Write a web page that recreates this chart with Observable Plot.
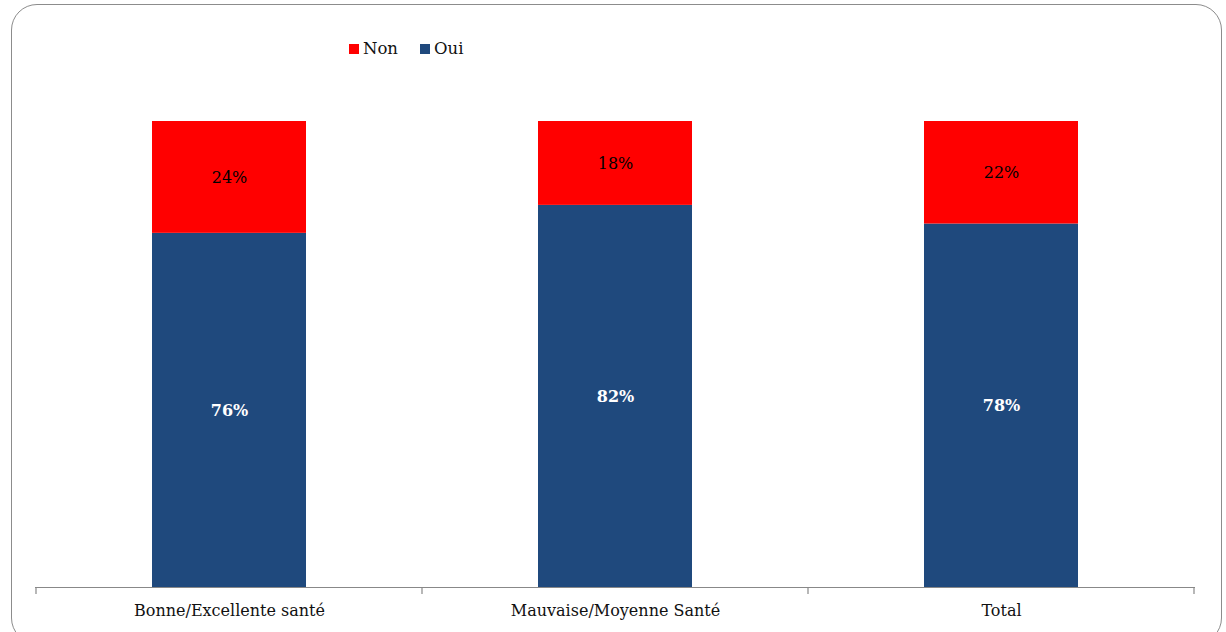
<!DOCTYPE html>
<html>
<head>
<meta charset="utf-8">
<script src="https://cdn.jsdelivr.net/npm/d3@7"></script>
<script src="https://cdn.jsdelivr.net/npm/@observablehq/plot@0.6"></script>
<style>
  html, body { margin: 0; padding: 0; background: #fff; overflow: hidden; }
  #wrap { position: relative; width: 1226px; height: 632px; font-family: "DejaVu Serif", serif; overflow: hidden; }
  #frame {
    position: absolute; left: 11px; top: 4px; width: 1211px; height: 640px;
    border: 1.5px solid #8c8c8c; border-radius: 26px; box-sizing: border-box;
  }
  #legend {
    position: absolute; left: 349px; top: 39px; font-size: 16.5px; color: #111;
    display: flex; align-items: center; gap: 22px;
  }
  #legend span.item { display: flex; align-items: center; gap: 4px; }
  #legend i { display: inline-block; width: 10px; height: 10px; }
  #chart { position: absolute; left: 0; top: 0; }
</style>
</head>
<body>
<div id="wrap">
  <div id="frame"></div>
  <div id="legend"></div>
  <div id="chart"></div>
</div>
<script>
// Categories and answer shares (%)
const categories = ["Bonne/Excellente santé", "Mauvaise/Moyenne Santé", "Total"];
const oui = [76, 82, 78];
const non = [24, 18, 22];

const colors = { Non: "#ff0000", Oui: "#1f497d" };

// Long table: "Oui" rows first so they stack at the bottom
const rows = [
  ...categories.map((c, i) => ({ cat: c, rep: "Oui", value: oui[i] })),
  ...categories.map((c, i) => ({ cat: c, rep: "Non", value: non[i] }))
];

// Legend (Non, Oui)
const legend = document.getElementById("legend");
for (const k of ["Non", "Oui"]) {
  const s = document.createElement("span");
  s.className = "item";
  s.innerHTML = `<i style="background:${colors[k]}"></i>${k}`;
  legend.appendChild(s);
}

// Stacked label positions; each text mark only writes its own answer
const labelFor = rep => Plot.stackY({
  x: "cat", y: "value", z: "rep",
  text: d => d.rep === rep ? `${d.value}%` : ""
});

const plot = Plot.plot({
  width: 1226,
  height: 632,
  marginLeft: 35,
  marginRight: 31,
  marginTop: 121,
  marginBottom: 45,
  style: { fontFamily: "DejaVu Serif, serif", fontSize: "16px", background: "transparent", overflow: "visible" },
  x: { domain: categories, paddingInner: 0.6, paddingOuter: 0.3, label: null },
  y: { domain: [0, 100], axis: null },
  color: { domain: ["Non", "Oui"], range: [colors.Non, colors.Oui] },
  marks: [
    Plot.barY(rows, Plot.stackY({ x: "cat", y: "value", z: "rep", fill: "rep" })),
    Plot.text(rows, { ...labelFor("Oui"), fill: "#ffffff", fontWeight: "bold", fontSize: 16 }),
    Plot.text(rows, { ...labelFor("Non"), fill: "#000000", fontSize: 16 }),
    Plot.ruleY([0], { stroke: "#888888", strokeWidth: 1.2 }),
    Plot.axisX({ tickSize: 0, tickPadding: 17, fill: "#111", fontSize: 16, label: null })
  ]
});

document.getElementById("chart").appendChild(plot);

// Category separator ticks below the baseline, at the band boundaries
const xs = plot.scale("x");
const ys = plot.scale("y");
const step = xs.step;
const y0 = ys.apply(0);
const bounds = categories.map(c => xs.apply(c) + xs.bandwidth / 2 - step / 2);
bounds.push(bounds[bounds.length - 1] + step);
d3.select(plot).append("g")
  .attr("stroke", "#888888")
  .attr("stroke-width", 1.2)
  .selectAll("line")
  .data(bounds)
  .join("line")
  .attr("x1", d => d).attr("x2", d => d)
  .attr("y1", y0).attr("y2", y0 + 7);
</script>
</body>
</html>
